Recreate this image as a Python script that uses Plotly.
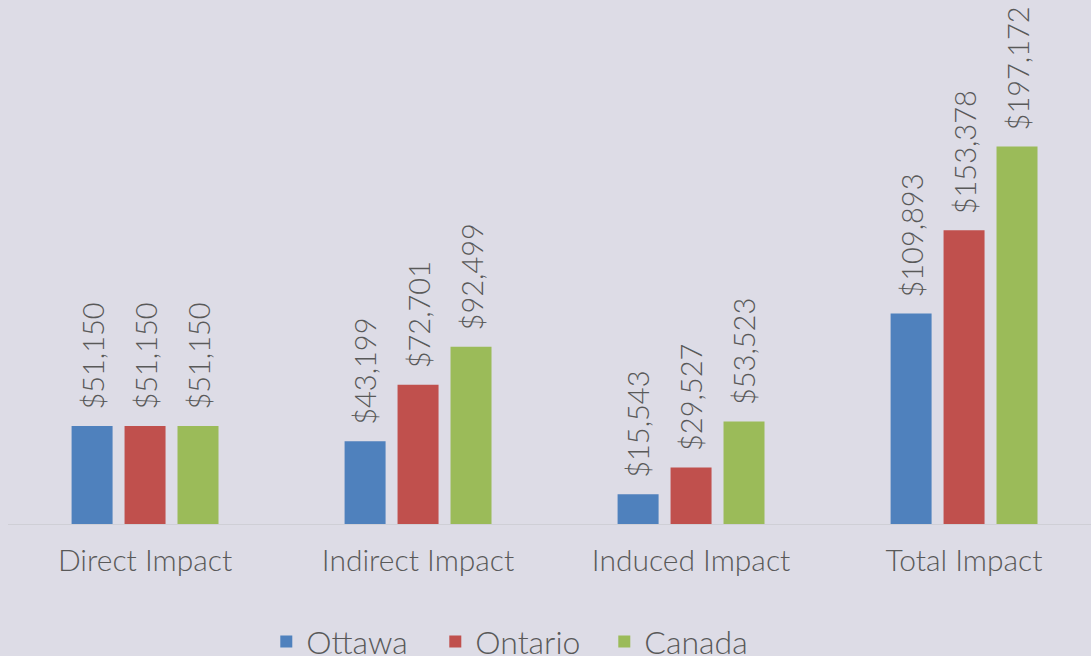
import plotly.graph_objects as go

categories = ["Direct Impact", "Indirect Impact", "Induced Impact", "Total Impact"]
series_names = ["Ottawa", "Ontario", "Canada"]
ottawa = [51150, 43199, 15543, 109893]
ontario = [51150, 72701, 29527, 153378]
canada = [51150, 92499, 53523, 197172]
colors = ["#4f81bd", "#c0504d", "#9bbb59"]

FONT = "Lato, 'Century Gothic', sans-serif"
TXT = "#595959"
BG = "#dddce6"
W = 300

fig = go.Figure()
all_series = [ottawa, ontario, canada]
for name, vals, col in zip(series_names, all_series, colors):
    fig.add_trace(go.Bar(name=name, x=categories, y=vals, marker=dict(color=col, line=dict(width=0))))

# data labels as rotated annotations
offsets = [-53, 0, 53]
for vals, off in zip(all_series, offsets):
    for c, v in zip(categories, vals):
        fig.add_annotation(x=c, y=v, text=f"${v:,}", textangle=-90, showarrow=False,
                           xshift=off, yshift=14, yanchor="bottom", xanchor="center",
                           font=dict(family=FONT, size=29, color=TXT, weight=W))

fig.update_layout(
    width=1091, height=656,
    paper_bgcolor=BG, plot_bgcolor=BG,
    margin=dict(l=8, r=0, t=0, b=132, autoexpand=False),
    barmode="group", bargap=0.418, bargroupgap=0.226,
    font=dict(family=FONT, size=30, color=TXT, weight=W),
    showlegend=True,
    legend=dict(orientation="h", x=0.2385, xanchor="left", y=-0.172, yanchor="top",
                font=dict(family=FONT, size=32, color=TXT, weight=W),
                entrywidth=124, entrywidthmode="pixels", itemwidth=30,
                bgcolor="rgba(0,0,0,0)"),
)
fig.update_xaxes(range=[-0.502, 3.465], showline=True, linecolor="#cfcfd6", linewidth=1,
                 ticks="", tickfont=dict(family=FONT, size=30, color=TXT, weight=W), showgrid=False,
                 ticklabelstandoff=10)
fig.update_yaxes(range=[0, 273600], showgrid=False, zeroline=False, showticklabels=False, visible=False)

fig.write_html("out.html", config={"displayModeBar": False},
               post_script="document.body.style.margin='0';document.body.style.background='" + BG + "';")
